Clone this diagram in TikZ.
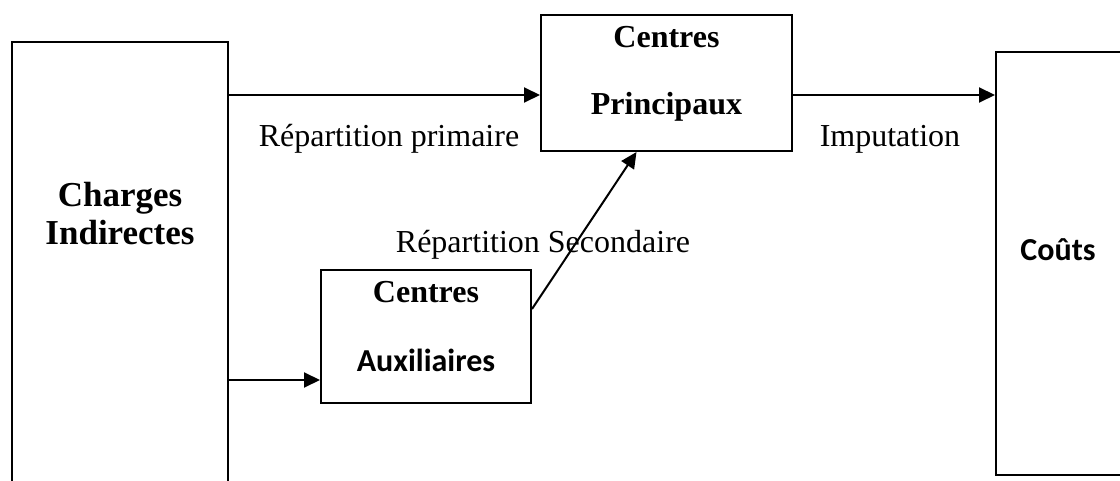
\documentclass[tikz,border=0pt]{standalone}
\usepackage{fontspec}
\setmainfont{Liberation Serif}
\newfontfamily\calib{Carlito}
\usetikzlibrary{arrows.meta,calc}
\begin{document}
\begin{tikzpicture}[x=0.5pt,y=-0.5pt,
  box/.style={draw,line width=1pt,inner sep=0pt},
  arr/.style={line width=1pt,-{Triangle[length=8pt,width=7.5pt]}},
  lbl/.style={inner sep=0pt,font=\fontsize{16pt}{19pt}\selectfont},
  btxt/.style={inner sep=0pt,font=\fontsize{16pt}{19pt}\selectfont\bfseries},
  ctxt/.style={inner sep=0pt,font=\fontsize{16pt}{19pt}\selectfont\calib\bfseries}]
\useasboundingbox (0,0) rectangle (1120,481);
\clip (0,0) rectangle (1120,481);
\fill[white] (0,0) rectangle (1120,481);
% boxes
\node[box,minimum width=108pt,minimum height=239pt] (L) at (120,281) {};
\node[box,minimum width=125.5pt,minimum height=68pt] (CP) at (666.5,83) {};
\node[box,minimum width=105pt,minimum height=66.5pt] (AX) at (426,336.5) {};
\node[box,minimum width=72pt,minimum height=211.5pt] (R) at (1068,263.5) {};
% box texts
\node[btxt,font=\fontsize{17.5pt}{21pt}\selectfont\bfseries] (t1) at (120,198) {Charges};
\node[btxt,font=\fontsize{17.5pt}{21pt}\selectfont\bfseries] (t2) at (120,233) {Indirectes};
\node[btxt] (t3) at (666.5,37) {Centres};
\node[btxt] (t4) at (666.5,107) {Principaux};
\node[btxt] (t5) at (426,292) {Centres};
\node[ctxt] (t6) at (426,360) {Auxiliaires};
\node[ctxt] (t7) at (1058,250) {Coûts};
% connectors
\coordinate (ya) at (0,95);
\coordinate (yb) at (0,380);
\draw[arr] (L.east |- ya) -- (CP.west |- ya);
\draw[arr] (L.east |- yb) -- (AX.west |- yb);
\draw[arr] (CP.east |- ya) -- (R.west |- ya);
\draw[arr] ($(AX.north east)+(0,40)$) -- ($(CP.south)+(-30,0)$);
% labels
\node[lbl] (l1) at (389,139) {Répartition primaire};
\node[lbl] (l2) at (890,139) {Imputation};
\node[lbl] (l3) at (543,245) {Répartition Secondaire};
\end{tikzpicture}
\end{document}
